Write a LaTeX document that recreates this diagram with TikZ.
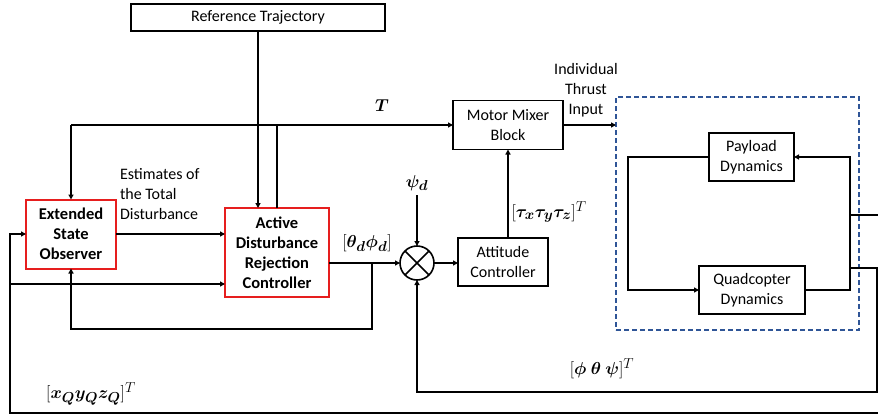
\documentclass[tikz,border=0pt]{standalone}
\usepackage{fontspec}
\setmainfont{Carlito}
\usepackage{amsmath}
\usetikzlibrary{arrows.meta,calc}
\definecolor{boxred}{RGB}{230,30,30}
\definecolor{dashblue}{RGB}{47,85,151}
\begin{document}
\begin{tikzpicture}[x=1pt,y=-1pt,
  every node/.style={inner sep=0pt,outer sep=0pt},
  blk/.style={draw,line width=1.6pt,rectangle,align=center,font=\fontsize{16}{20}\selectfont},
  redblk/.style={draw=boxred,line width=2pt,rectangle,align=center,font=\fontsize{16.5}{20}\selectfont\bfseries},
  conn/.style={line width=1.6pt},
  arr/.style={conn,-{Triangle[length=5pt,width=5pt]}},
  lbl/.style={font=\fontsize{16}{20}\selectfont},
  mlbl/.style={font=\fontsize{19}{20}\selectfont}]
\useasboundingbox (0,0) rectangle (878,415);
% blocks
\node[blk,minimum width=254pt,minimum height=27pt] (rt) at (258,17.5) {Reference Trajectory};
\node[redblk,minimum width=90pt,minimum height=69pt] (eso) at (71,234) {Extended\\State\\Observer};
\node[redblk,minimum width=104pt,minimum height=89pt] (adrc) at (277,252.5) {Active\\Disturbance\\Rejection\\Controller};
\node[blk,minimum width=110pt,minimum height=49pt] (mm) at (508,125) {Motor Mixer\\Block};
\node[blk,minimum width=90pt,minimum height=48pt] (att) at (503,262) {Attitude\\Controller};
\node[draw,circle,line width=1.6pt,minimum size=34pt] (sum) at (417,263) {};
\draw[line width=1.6pt] (sum.north east) -- (sum.south west) (sum.north west) -- (sum.south east);
\node[draw=dashblue,line width=1.5pt,dash pattern=on 5pt off 3pt,minimum width=243pt,minimum height=233pt] (plant) at (737.5,213.5) {};
\node[blk,minimum width=85pt,minimum height=48pt] (pl) at (751.5,157) {Payload\\Dynamics};
\node[blk,minimum width=106pt,minimum height=48pt] (qd) at (752,290) {Quadcopter\\Dynamics};
% labels
\node[lbl,align=left,anchor=north west] (est) at (120,168) {Estimates of\\the Total\\Disturbance};
\node[mlbl] (thphi) at (367,243) {$[\boldsymbol{\theta_d\phi_d}]$};
\node[mlbl] (tlab) at (382,106) {$\boldsymbol{T}$};
\node[mlbl] (psi) at (417,183) {$\boldsymbol{\psi_d}$};
\node[mlbl] (tau) at (549,212) {$[\boldsymbol{\tau_x\tau_y\tau_z}]^T$};
\node[lbl,align=center] (iti) at (586,90) {Individual\\Thrust\\Input};
\node[mlbl] (att3) at (602,369) {$[\boldsymbol{\phi\ \theta\ \psi}]^T$};
\node[mlbl] (pos) at (91,394) {$[\boldsymbol{x_Qy_Qz_Q}]^T$};
% coordinates
\coordinate (tl) at (71,125);
\coordinate (fbl) at (10,413);
\coordinate (fbr) at (878,413);
\coordinate (br) at (372,263);
\coordinate (bl) at (71,329);
\coordinate (psitop) at (417,195);
\coordinate (ra) at (850,157);
\coordinate (rb) at (850,290);
\coordinate (la) at (628,157);
\coordinate (lb) at (628,290);
\coordinate (o1) at (878,215);
\coordinate (o2) at (877,268);
\coordinate (o3) at (877,392);
% connectors
\draw[arr] (rt.south) -- (rt.south |- adrc.north);
\draw[conn] (adrc.north) -- (adrc.north |- tl);
\draw[arr] (tl) -- (mm.west);
\draw[arr] (tl) -- (eso.north);
\draw[arr] (eso.east) -- (eso.east -| adrc.west);
\draw[arr] (fbr) -- (fbl) -- (fbl |- eso.west) -- (eso.west);
\draw[arr] (10,284) -- (adrc.west |- 0,284);
\draw[arr] (adrc.east |- sum.west) -- (sum.west);
\draw[arr] (br) -- (br |- bl) -- (bl) -- (eso.south);
\draw[arr] (psitop) -- (sum.north);
\draw[arr] (sum.east) -- (att.west |- sum.east);
\draw[arr] (mm.south |- att.north) -- (mm.south);
\draw[arr] (mm.east) -- (plant.west |- mm.east);
\draw[arr] (pl.west) -- (la) -- (lb) -- (qd.west);
\draw[arr] (qd.east) -- (rb) -- (ra) -- (pl.east);
\draw[conn] (ra |- o1) -- (o1);
\draw[arr] (ra |- o2) -- (o2) -- (o3) -- (o3 -| sum.south) -- (sum.south);
\end{tikzpicture}
\end{document}
